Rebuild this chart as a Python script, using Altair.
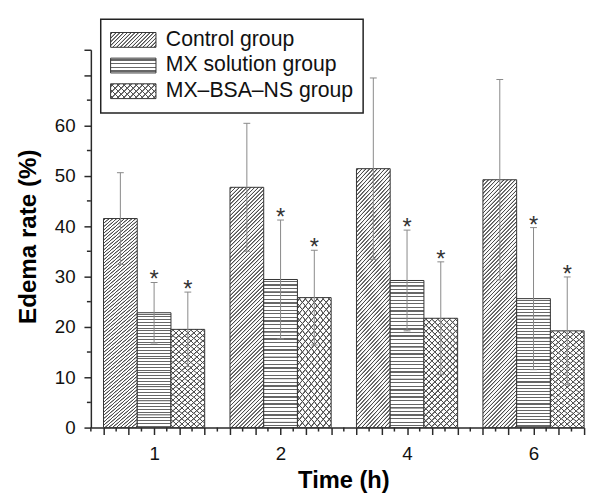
import altair as alt
import pandas as pd

# ---------------- data ----------------
times = ["1", "2", "4", "6"]
series_names = ["Control group", "MX solution group", "MX\u2013BSA\u2013NS group"]

control_mean = [41.5, 47.7, 51.4, 49.2]
control_err = [9.1, 12.7, 18.0, 19.9]
mx_mean = [22.8, 29.4, 29.2, 25.6]
mx_err = [6.0, 11.8, 10.0, 14.1]
ns_mean = [19.5, 25.8, 21.7, 19.2]
ns_err = [7.4, 9.4, 11.2, 10.7]

y_major_ticks = [0, 10, 20, 30, 40, 50, 60, 70, 75]
y_minor_ticks = [5, 15, 25, 35, 45, 55, 65]
x_major_ticks = [0.6, 0.8, 1.0, 1.2, 1.4, 1.6, 1.8, 2.0, 2.2, 2.4, 2.6, 2.8, 3.0, 3.2, 3.4,
                 3.6, 3.8, 4.0, 4.2, 4.4]
x_minor_ticks = [0.5, 0.7, 0.9, 1.1, 1.3, 1.5, 1.7, 1.9, 2.1, 2.3, 2.5, 2.7, 2.9, 3.1, 3.3,
                 3.5, 3.7, 3.9, 4.1, 4.3]

rows = []
for si, (m, e) in enumerate([(control_mean, control_err), (mx_mean, mx_err), (ns_mean, ns_err)]):
    for ti, t in enumerate(times):
        rows.append({"time": t, "pos": ti + 1, "series": series_names[si], "si": si,
                     "mean": m[ti], "err": e[ti]})
df = pd.DataFrame(rows)
legend_df = pd.DataFrame({"series": series_names, "si": [0, 1, 2]})
xminor_df = pd.DataFrame({"v": x_minor_ticks})
yminor_df = pd.DataFrame({"v": y_minor_ticks})

FONT = "Liberation Sans"
AX = "#2a2a2a"


# ---------------- hatch fills (styles) ----------------
def stripe_stops(n, core, ramp, line, bg):
    """core / ramp are fractions of one stripe period."""
    stops = [{"offset": 0, "color": bg}]
    for i in range(n):
        c = (i + 0.5) / n
        hc, r = core / (2 * n), ramp / n
        pts = [(c - hc - r, bg), (c - hc, line), (c + hc, line), (c + hc + r, bg)]
        for o, col in pts:
            stops.append({"offset": round(min(max(o, 0), 1), 5), "color": col})
    stops.append({"offset": 1, "color": bg})
    return stops


def diag(w, h, n, core, ramp, line, bg, up=True):
    c = (w + h) / (w * w + h * h)
    st = stripe_stops(n, core, ramp, line, bg)
    if up:  # "/" lines
        return {"gradient": "linear", "x1": 0, "y1": 0, "x2": round(c * w, 5), "y2": round(c * h, 5), "stops": st}
    return {"gradient": "linear", "x1": 0, "y1": 1, "x2": round(c * w, 5), "y2": round(1 - c * h, 5), "stops": st}


def horiz(n, core, ramp, line, bg):
    return {"gradient": "linear", "x1": 0, "y1": 0, "x2": 0, "y2": 1,
            "stops": stripe_stops(n, core, ramp, line, bg)}


CLEAR = "rgba(255,255,255,0)"
ctrl_fill = diag(34, 243, 72, 0.2, 0.16, "#4d4d4d", "#ffffff", True)
mx_fill = horiz(41, 0.34, 0.02, "#666666", "#ffffff")
ns_fill_a = diag(34, 110, 24, 0.13, 0.1, "#4d4d4d", "#ffffff", True)
ns_fill_b = diag(34, 110, 24, 0.13, 0.1, "#4d4d4d", CLEAR, False)

leg_ctrl = diag(46, 15, 16, 0.2, 0.16, "#4d4d4d", "#ffffff", True)
leg_mx = horiz(4, 0.34, 0.02, "#666666", "#ffffff")
leg_ns_a = diag(46, 15, 10, 0.13, 0.1, "#4d4d4d", "#ffffff", True)
leg_ns_b = diag(46, 15, 10, 0.13, 0.1, "#4d4d4d", CLEAR, False)

# ---------------- scales & axes ----------------
xscale = alt.Scale(domain=[0.5, 4.4], nice=False, zero=False)
yscale = alt.Scale(domain=[0, 75], nice=False)

x_label_expr = " : ".join(
    f"abs(datum.value - {i + 1}) < 0.001 ? '{t}'" for i, t in enumerate(times)) + " : ''"

xaxis = alt.Axis(
    values=x_major_ticks, labelExpr=x_label_expr, grid=False, tickSize=7,
    tickColor=AX, tickWidth=1.5, domainColor=AX, domainWidth=1.5,
    labelFont=FONT, labelFontSize=19, labelColor="#111", labelPadding=10, labelFlush=False,
    labelOverlap=False,
    title="Time (h)", titleFont=FONT, titleFontSize=24, titleFontWeight="bold", titleColor="#000",
    titleX=256, titleY=61, titleBaseline="alphabetic", titleAlign="center",
)
yaxis = alt.Axis(
    values=y_major_ticks, labelExpr="datum.value <= 60 ? datum.label : ''",
    grid=False, tickSize=7,
    tickColor=AX, tickWidth=1.5, domainColor=AX, domainWidth=1.5,
    labelFont=FONT, labelFontSize=19, labelColor="#111", labelPadding=9, labelOverlap=False,
    title="Edema rate (%)", titleFont=FONT, titleFontSize=24.5, titleFontWeight="bold", titleColor="#000",
    titleX=-56, titleY=189, titleAngle=-90, titleBaseline="alphabetic", titleAlign="center",
)

base = alt.Chart(df).transform_calculate(
    xc="datum.pos + (datum.si - 1) * 0.26667",
).transform_calculate(
    xl="datum.xc - 0.13333", xr="datum.xc + 0.13333",
    lo="datum.mean - datum.err", hi="datum.mean + datum.err",
    cl="datum.xc - 0.027", cr="datum.xc + 0.027",
)


def bars(si, fill, stroke=True):
    kw = dict(fill=fill, strokeWidth=1)
    if stroke:
        kw["stroke"] = "#333333"
    return base.transform_filter(f"datum.si == {si}").mark_rect(**kw).encode(
        x=alt.X("xl:Q", scale=xscale, axis=xaxis),
        x2="xr:Q",
        y=alt.Y("mean:Q", scale=yscale, axis=yaxis),
        y2=alt.datum(0),
    )


layers = [
    bars(0, ctrl_fill),
    bars(1, mx_fill),
    bars(2, ns_fill_a, stroke=False),
    bars(2, ns_fill_b),
]

ERR = "#888888"
layers.append(base.mark_rule(color=ERR, strokeWidth=1).encode(
    x=alt.X("xc:Q", scale=xscale, axis=xaxis),
    y=alt.Y("lo:Q", scale=yscale, axis=yaxis), y2="hi:Q"))
for f in ["hi", "lo"]:
    layers.append(base.mark_rule(color=ERR, strokeWidth=1).encode(
        x=alt.X("cl:Q", scale=xscale, axis=xaxis), x2="cr:Q",
        y=alt.Y(f"{f}:Q", scale=yscale, axis=yaxis)))

layers.append(base.transform_filter("datum.si > 0").mark_text(
    font=FONT, fontSize=24, color="#333", baseline="alphabetic", align="center", dy=5
).encode(
    x=alt.X("xc:Q", scale=xscale, axis=xaxis),
    y=alt.Y("hi:Q", scale=yscale, axis=yaxis),
    text=alt.value("*"),
))

# minor ticks
layers.append(alt.Chart(xminor_df).mark_rule(color=AX, strokeWidth=1.5).encode(
    x=alt.X("v:Q", scale=xscale, axis=xaxis), y=alt.value(383), y2=alt.value(387)))
layers.append(alt.Chart(yminor_df).mark_rule(color=AX, strokeWidth=1.5).encode(
    y=alt.Y("v:Q", scale=yscale, axis=yaxis), x=alt.value(-4), x2=alt.value(0)))

# ---------------- legend ----------------
leg = alt.Chart(legend_df)
layers.append(leg.transform_filter("datum.si == 0").mark_rect(
    fill="white", stroke="#222", strokeWidth=1.5).encode(
    x=alt.value(10), x2=alt.value(276), y=alt.value(-31), y2=alt.value(64)))

leg_fills = [[leg_ctrl], [leg_mx], [leg_ns_a, leg_ns_b]]
for k in range(3):
    cy = -10 + 26 * k
    for j, f in enumerate(leg_fills[k]):
        kw = dict(fill=f, strokeWidth=1)
        if j == len(leg_fills[k]) - 1:
            kw["stroke"] = "#333333"
        layers.append(leg.transform_filter(f"datum.si == {k}").mark_rect(**kw).encode(
            x=alt.value(20), x2=alt.value(66), y=alt.value(cy - 7.5), y2=alt.value(cy + 7.5)))
    layers.append(leg.transform_filter(f"datum.si == {k}").mark_text(
        font=FONT, fontSize=21.5, color="#111", align="left", baseline="middle").encode(
        x=alt.value(76), y=alt.value(cy), text="series:N"))

chart = alt.layer(*layers).properties(
    width=500, height=383,
    background="white",
    autosize=alt.AutoSizeParams(type="none"),
    padding={"left": 84, "top": 39, "right": 8, "bottom": 66},
).configure_view(stroke=None)

chart.save("out.html", embed_options={"renderer": "svg", "actions": False})
